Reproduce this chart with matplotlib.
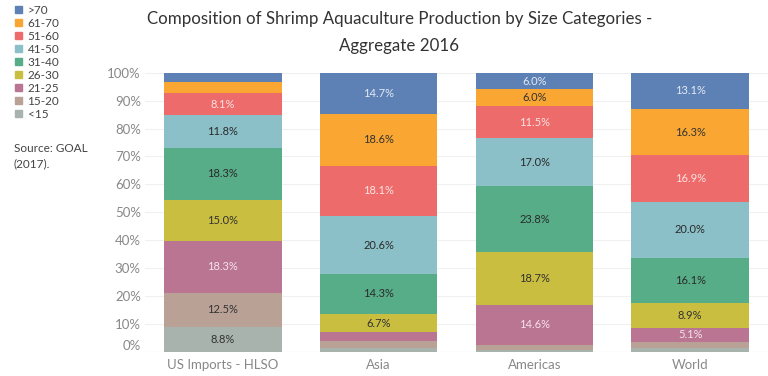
import numpy as np
import matplotlib
matplotlib.use('Agg')
import matplotlib.pyplot as plt
from matplotlib.patches import Patch

plt.rcParams['font.family'] = ['Lato', 'DejaVu Sans']

############ data

regions = ['US Imports - HLSO', 'Asia', 'Americas', 'World']
sizes = ['<15', '15-20', '21-25', '26-30', '31-40', '41-50', '51-60', '61-70', '>70']

# shares in %, one list per size category, order of regions
lt15   = [8.8, 1.3, 0.7, 1.5]
s15_20 = [12.5, 2.5, 1.7, 2.1]
s21_25 = [18.3, 3.2, 14.6, 5.1]
s26_30 = [15.0, 6.7, 18.7, 8.9]
s31_40 = [18.3, 14.3, 23.8, 16.1]
s41_50 = [11.8, 20.6, 17.0, 20.0]
s51_60 = [8.1, 18.1, 11.5, 16.9]
s61_70 = [3.9, 18.6, 6.0, 16.3]
gt70   = [3.3, 14.7, 6.0, 13.1]

shares = [lt15, s15_20, s21_25, s26_30, s31_40, s41_50, s51_60, s61_70, gt70]

colors = ['#A8B3AE', '#B9A196', '#B97592', '#C9BE3F', '#57AD88',
          '#8BC0C8', '#EE6B6B', '#FAA632', '#5E81B5']
txtcol = ['#333333', '#333333', '#F6E3EA', '#333333', '#2a2a2a',
          '#2a2a2a', '#FBE3E3', '#333333', '#E3EAF4']

############ plot

fig = plt.figure(figsize=(7.68, 3.76), dpi=100)
ax = fig.add_axes([145/768, 24/376, (768-145)/768, (352-72.7)/376])

x = np.arange(len(regions))
bottom = np.zeros(len(regions))
for vals, col, tc in zip(shares, colors, txtcol):
    vals = np.array(vals)
    ax.bar(x, vals, 0.754, bottom=bottom, color=col, zorder=2)
    for i, v in enumerate(vals):
        if v >= 5:
            ax.text(x[i], bottom[i] + v/2, '%.1f%%' % v, ha='center', va='center',
                    fontsize=8, color=tc, zorder=3)
    bottom = bottom + vals

ax.set_xlim(-0.5, 3.5)
ax.set_ylim(0, 100)
ax.set_yticks(np.arange(0, 101, 10))
ax.set_yticklabels(['%d%%' % t for t in range(0, 101, 10)])
ax.set_xticks(x)
ax.set_xticklabels(regions)
ax.tick_params(axis='both', length=0, colors='#888888', labelsize=9.5)
ax.tick_params(axis='y', pad=3)
ax.tick_params(axis='x', pad=5)
ax.get_yticklabels()[0].set_va('bottom')
ax.grid(axis='y', color='#f0f0f0', lw=0.8, zorder=0)
for s in ax.spines.values():
    s.set_visible(False)
ax.axhline(0, color='#e6e6e6', lw=0.8, zorder=1)

fig.text(0.52, 0.972, 'Composition of Shrimp Aquaculture Production by Size Categories -\nAggregate 2016',
         ha='center', va='top', fontsize=12.2, color='#333333', linespacing=1.85)

handles = [Patch(color=c, label=l) for c, l in zip(colors[::-1], sizes[::-1])]
fig.legend(handles=handles, loc='upper left', bbox_to_anchor=(0.012, 1.003), frameon=False,
           fontsize=8.5, handlelength=0.55, handleheight=0.55, handletextpad=0.5,
           labelspacing=0.17, borderaxespad=0.1, labelcolor='#444444')

fig.text(14/768, 1 - 143/376, 'Source: GOAL\n(2017).', ha='left', va='top',
         fontsize=8.5, color='#444444', linespacing=1.5)

plt.savefig('out.png', dpi=100)
plt.close()
